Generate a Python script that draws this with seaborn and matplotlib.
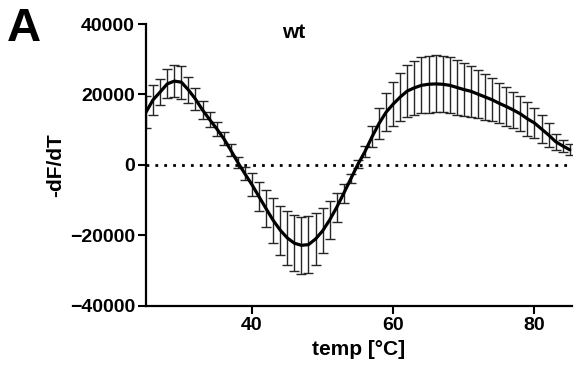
import numpy as np
import pandas as pd
import matplotlib
matplotlib.use("Agg")
import matplotlib.pyplot as plt
import seaborn as sns

# temperature steps (deg C)
temp = list(range(25, 86))

# mean -dF/dT for wt
mean_dfdt = [15000, 18500, 20700, 23000, 23800, 23500, 21300, 18700, 15600, 12900,
             10300, 7500, 4200, 700, -2500, -5600, -9000, -12400, -15700, -18500,
             -20700, -22200, -22800, -22600, -21000, -18700, -15600, -12000, -8000, -3900,
             200, 3800, 8000, 11800, 15000, 17300, 19300, 21000, 21900, 22600,
             22900, 23000, 22900, 22600, 22000, 21400, 20900, 20100, 19300, 18500,
             17500, 16600, 15600, 14500, 13100, 11900, 10200, 8500, 6600, 5400,
             4300]

# error (SD) for each point
err_dfdt = [4600, 4200, 3700, 4100, 4500, 4700, 3800, 3100, 2600, 2000,
            2000, 1900, 1700, 1600, 1800, 3200, 4200, 5300, 6300, 7000,
            7700, 8000, 8100, 8100, 7300, 6400, 5400, 4100, 2700, 1300,
            1100, 1600, 3000, 4300, 5300, 6200, 6900, 7400, 7700, 7900,
            8100, 8100, 8000, 7900, 7800, 7500, 7200, 6900, 6500, 6100,
            5700, 5500, 5200, 5000, 4900, 4300, 4000, 3300, 2300, 1700,
            1600]

df = pd.DataFrame({"temp": temp, "dfdt": mean_dfdt, "err": err_dfdt})

sns.set_style("ticks")
plt.rcParams["font.family"] = ["Liberation Sans", "DejaVu Sans"]
plt.rcParams["font.weight"] = "bold"
plt.rcParams["text.color"] = "black"
plt.rcParams["axes.labelcolor"] = "black"
plt.rcParams["xtick.color"] = "black"
plt.rcParams["ytick.color"] = "black"

fig = plt.figure(figsize=(5.74, 3.81), dpi=100)
ax = fig.add_axes([0.2544, 0.197, 0.742, 0.740])

ax.axhline(0, color="black", lw=2, linestyle=(0, (1, 2.2)), zorder=1)
ax.errorbar(df["temp"], df["dfdt"], yerr=df["err"], fmt="none",
            ecolor="#262626", elinewidth=1.0, capsize=3.5, capthick=1.0, zorder=2)
sns.lineplot(data=df, x="temp", y="dfdt", color="black", lw=2.3, ax=ax, zorder=3)

ax.set_xlim(25, 85.3)
ax.set_ylim(-40000, 40000)
ax.set_xticks([40, 60, 80])
ax.set_yticks([-40000, -20000, 0, 20000, 40000])
ax.tick_params(axis="both", length=6, width=1.5, labelsize=14, pad=2,
               color="black", labelcolor="black")
for lab in ax.get_xticklabels() + ax.get_yticklabels():
    lab.set_fontweight("bold")

sns.despine(ax=ax)
for s in ["left", "bottom"]:
    ax.spines[s].set_linewidth(1.6)
    ax.spines[s].set_color("black")

ax.set_xlabel("temp [°C]", fontsize=15, fontweight="bold", labelpad=4, color="black")
ax.set_ylabel("-dF/dT", fontsize=15, fontweight="bold", labelpad=3, color="black")

fig.text(0.511, 0.915, "wt", fontsize=15, fontweight="bold", ha="center", va="center", color="black")
fig.text(0.012, 0.925, "A", fontsize=34, fontweight="bold", ha="left", va="center", color="black")

fig.savefig("out.png", dpi=100)
